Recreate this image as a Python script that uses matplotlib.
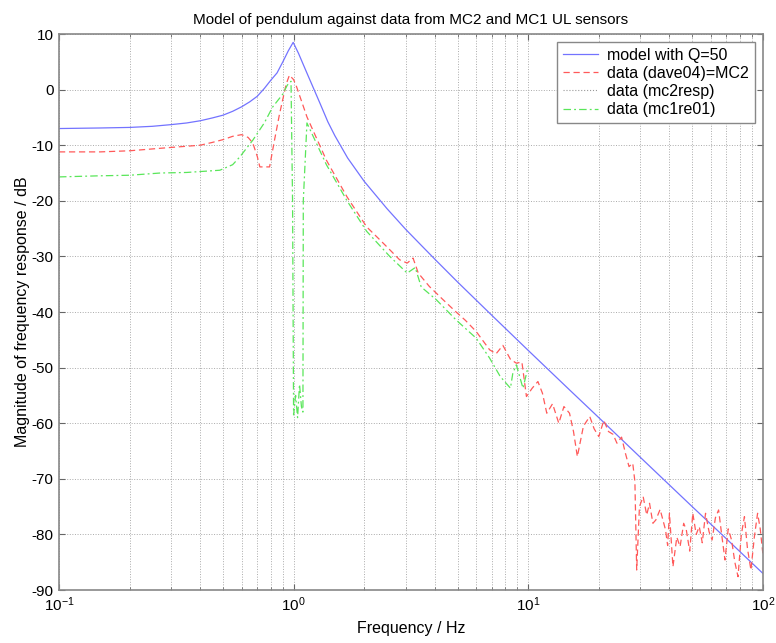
import matplotlib
matplotlib.use("Agg")
import matplotlib.pyplot as plt
import numpy as np

plt.rcParams['font.family'] = ['Liberation Sans', 'DejaVu Sans']
plt.rcParams['mathtext.fontset'] = 'custom'
plt.rcParams['mathtext.rm'] = 'Liberation Sans'
plt.rcParams['axes.unicode_minus'] = False

# model with Q=50
f_model = [0.1, 0.15, 0.2, 0.25, 0.3, 0.35, 0.4, 0.45, 0.5, 0.55, 0.6, 0.65, 0.7, 0.75,
           0.8, 0.85, 0.9, 0.95, 0.996, 1.05, 1.1, 1.15, 1.2, 1.3, 1.4, 1.5, 1.7, 2.0,
           2.5, 3.0, 3.5, 4.0, 5.0, 7.0, 10, 15, 20, 30, 50, 70, 100]
mag_model = [-7.0, -6.9, -6.8, -6.6, -6.3, -6.0, -5.6, -5.1, -4.6, -3.9, -3.1, -2.2, -1.2,
             0.2, 1.7, 3.0, 5.0, 7.0, 8.5, 6.5, 4.5, 2.6, 0.8, -2.6, -5.8, -8.3, -12.3,
             -16.5, -21.4, -25.1, -28.0, -30.5, -34.6, -40.6, -46.9, -54.0, -59.0, -66.1,
             -75.0, -80.8, -87.0]

# data (dave04)=MC2
f_dave = [0.1, 0.15, 0.2, 0.3, 0.4, 0.45, 0.5, 0.55, 0.6, 0.64, 0.67, 0.7, 0.718, 0.79,
          0.83, 0.87, 0.93, 0.96, 1.0, 1.03, 1.14, 1.38, 1.69, 2.05, 2.33, 2.57, 2.83,
          3.05, 3.23, 3.4, 3.79, 4.34, 4.9, 5.4, 6.0, 6.85, 7.3, 7.8, 8.4, 8.9, 9.4, 9.83,
          10.4, 11.0, 11.5, 12.0, 12.7, 13.5, 14.2, 15.0, 15.6, 16.2, 17.2, 18.3, 19.1,
          20.0, 21.0, 22.0, 23.0, 23.9, 25.0, 26.0, 26.9, 27.9, 28.5, 29.0, 29.8, 30.9,
          32.0, 32.9, 34.0, 35.0, 36.5, 38.5, 39.3, 40.0, 41.4, 43.0, 44.4, 46.0, 47.2,
          48.8, 50.3, 52.0, 53.6, 55.2, 57.0, 59.0, 60.8, 62.8, 64.8, 67.0, 69.0, 71.2,
          73.6, 76.0, 78.4, 81.0, 83.5, 86.0, 89.0, 92.0, 95.0, 97.5, 100.0]
mag_dave = [-11.2, -11.2, -11.0, -10.4, -10.0, -9.5, -9.0, -8.4, -8.1, -8.6, -9.6, -12.0,
            -13.9, -13.9, -9.0, -4.5, 1.0, 2.6, 1.8, 0.5, -4.9, -12.7, -19.3, -24.7, -27.0,
            -28.8, -30.6, -31.2, -30.3, -33.0, -35.4, -37.8, -39.9, -41.5, -43.5, -46.8,
            -47.5, -46.0, -48.5, -49.2, -49.0, -55.2, -53.7, -52.5, -54.6, -58.2, -56.5,
            -60.0, -57.0, -58.2, -61.5, -66.0, -60.5, -58.8, -61.0, -62.4, -59.5, -61.5,
            -62.0, -63.6, -62.5, -65.5, -67.8, -67.2, -70.5, -86.4, -75.0, -73.2, -76.5,
            -74.4, -78.0, -77.4, -75.5, -79.2, -82.0, -76.2, -85.8, -80.5, -82.2, -78.0,
            -79.2, -83.0, -76.2, -80.0, -78.6, -81.5, -76.2, -79.5, -81.0, -77.0, -75.6,
            -80.5, -84.6, -79.0, -81.0, -85.0, -87.6, -80.0, -76.8, -82.5, -86.4, -80.5,
            -76.2, -79.0, -83.4]

# data (mc1re01)
f_mc1 = [0.1, 0.15, 0.2, 0.27, 0.35, 0.485, 0.55, 0.59, 0.67, 0.75, 0.815, 0.9, 0.94,
         0.975, 0.99, 1.0, 1.02, 1.04, 1.06, 1.08, 1.096, 1.1, 1.14, 1.38, 1.69, 2.05,
         2.57, 2.8, 3.05, 3.3, 3.5, 4.06, 4.92, 6.0, 6.85, 7.6, 8.4, 8.6, 8.9, 9.5, 10.0]
mag_mc1 = [-15.7, -15.5, -15.4, -15.0, -14.9, -14.5, -13.5, -12.1, -9.1, -6.0, -3.1, -0.8,
           0.8, 1.5, -20.0, -58.5, -55.0, -59.0, -53.0, -57.0, -58.0, -20.0, -6.0, -13.5,
           -20.0, -25.5, -30.0, -31.5, -33.0, -32.0, -35.5, -37.8, -41.4, -44.7, -48.3,
           -51.6, -53.7, -51.0, -49.5, -53.7, -49.8]

# data (mc2resp): nothing inside the plotted range
f_mc2 = []
mag_mc2 = []

fig = plt.figure(figsize=(7.76, 6.43), dpi=100)
ax = fig.add_axes([0.076, 0.0824, 0.907, 0.8647])

ax.semilogx(f_model, mag_model, '-', color=(0.45, 0.45, 1.0), lw=0.9, label='model with Q=50')
ax.semilogx(f_dave, mag_dave, '--', color=(1.0, 0.35, 0.35), lw=0.9, dashes=(5, 3),
            label='data (dave04)=MC2')
ax.semilogx(f_mc2, mag_mc2, ':', color=(0.6, 0.6, 0.6), lw=0.8, label='data (mc2resp)')
ax.semilogx(f_mc1, mag_mc1, '-.', color=(0.35, 0.9, 0.35), lw=0.9, dashes=(6, 2.5, 1.5, 2.5),
            label='data (mc1re01)')

ax.set_xlim(0.1, 100)
ax.set_ylim(-90, 10)
ax.set_yticks(np.arange(-90, 11, 10))
ax.grid(True, which='major', linestyle=':', color='#aaaaaa', lw=0.7)
ax.grid(True, which='minor', axis='x', linestyle=':', color='#aaaaaa', lw=0.7)
ax.tick_params(which='both', direction='in', top=True, right=True, labelsize=11,
               color='#666666', pad=4)
ax.tick_params(which='major', length=4)
ax.tick_params(which='minor', length=2.5)
for s in ax.spines.values():
    s.set_color('#888888')
    s.set_linewidth(1.2)

ax.set_title('Model of pendulum against data from MC2 and MC1 UL sensors', fontsize=11, pad=7)
ax.set_xlabel('Frequency / Hz', fontsize=11.5, labelpad=5)
ax.set_ylabel('Magnitude of frequency response / dB', fontsize=11.5, labelpad=1)

leg = ax.legend(loc='upper right', fontsize=11.5, handlelength=2.2, fancybox=False,
                borderaxespad=0.5, labelspacing=0.2, borderpad=0.35, framealpha=1,
                handletextpad=0.6)
leg.get_frame().set_edgecolor('#888888')
leg.get_frame().set_linewidth(1.0)

fig.savefig('out.png', dpi=100)
